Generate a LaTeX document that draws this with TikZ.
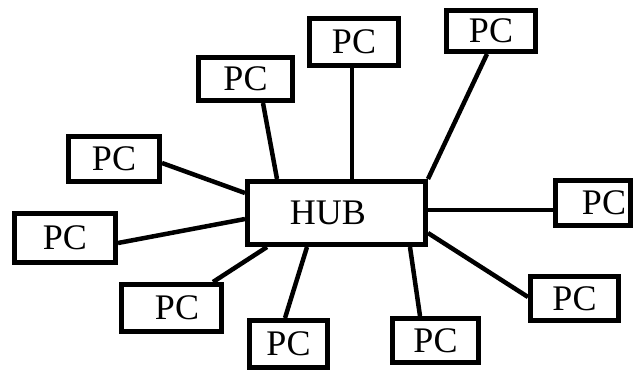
\documentclass[tikz,border=0pt]{standalone}
\usepackage{fontspec}
\setmainfont{Liberation Serif}
\begin{document}
\begin{tikzpicture}[x=1pt,y=-1pt,
  box/.style={draw=black, line width=5pt, fill=white, inner sep=0pt, font=\fontsize{36}{40}\selectfont},
  wire/.style={draw=black, line width=4.5pt},
  lbl/.style={inner sep=0pt, font=\fontsize{36}{40}\selectfont}]
\useasboundingbox (0,0) rectangle (635,373);
% nodes
\node[box, minimum width=178pt, minimum height=63pt] (hub) at (336.5,213) {};
\node[lbl] at (328,213) {HUB};
\node[box, minimum width=94pt, minimum height=43pt] (a) at (245.5,79) {PC};
\node[box, minimum width=91pt, minimum height=45pt] (b) at (114,159) {PC};
\node[box, minimum width=89pt, minimum height=47pt] (c) at (354,42) {PC};
\node[box, minimum width=89pt, minimum height=41pt] (d) at (491,31) {PC};
\node[box, minimum width=75pt, minimum height=45pt] (e) at (593,203) {};
\node[lbl] at (604,203) {PC};
\node[box, minimum width=101pt, minimum height=49pt] (f) at (65,238) {PC};
\node[box, minimum width=100pt, minimum height=47pt] (g) at (171.5,308) {};
\node[lbl] at (177,308) {PC};
\node[box, minimum width=78pt, minimum height=47pt] (h) at (288.5,344) {PC};
\node[box, minimum width=88pt, minimum height=44pt] (i) at (574.5,298.5) {PC};
\node[box, minimum width=86pt, minimum height=44pt] (j) at (435.5,340.5) {PC};
% connectors
\draw[wire] ([xshift=17.5pt]a.south) -- ([xshift=-59.5pt]hub.north);
\draw[wire] ([yshift=-4pt]b.east) -- ([yshift=20pt]hub.west);
\draw[wire] ([xshift=-2pt]c.south) -- ([xshift=15.5pt]hub.north);
\draw[wire] ([xshift=-4pt]d.south) -- (hub.north east);
\draw[wire] ([yshift=3pt]hub.east) -- ([yshift=-7pt]e.west);
\draw[wire] ([yshift=-20pt]hub.east) -- ([yshift=1.5pt]i.west);
\draw[wire] ([xshift=73.5pt]hub.south) -- ([xshift=-15.5pt]j.north);
\draw[wire] ([xshift=-29.5pt]hub.south) -- ([xshift=-3.5pt]h.north);
\draw[wire] ([xshift=-69.5pt]hub.south) -- ([xshift=41.5pt]g.north);
\draw[wire] ([yshift=-6pt]hub.west) -- ([yshift=-5pt]f.east);
\end{tikzpicture}
\end{document}
